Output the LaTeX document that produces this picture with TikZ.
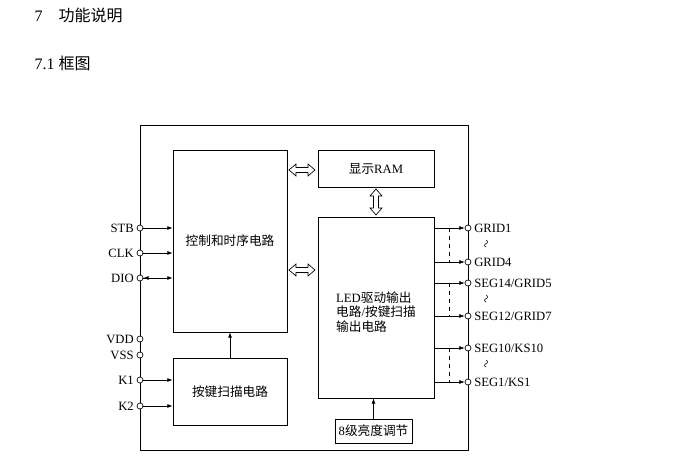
\documentclass[tikz,border=0pt]{standalone}
\usepackage{fontspec}
\setmainfont{Liberation Serif}
\newfontfamily\cjk{Noto Sans CJK SC}
\usetikzlibrary{arrows.meta}
\begin{document}
\begin{tikzpicture}[x=0.75pt,y=-0.75pt,
  box/.style={draw,line width=0.6pt,inner sep=0},
  lbl/.style={font=\fontsize{9.5}{11}\selectfont,inner sep=2pt},
  pin/.style={draw,fill=white,circle,inner sep=0,minimum size=4.5pt,line width=0.5pt},
  sig/.style={line width=0.5pt,-{Latex[length=4pt,width=3pt]}},
  hol/.style={draw,fill=white,line width=0.5pt}]
\useasboundingbox (0,0) rectangle (675,473);
\node[anchor=west,font=\fontsize{12}{14}\selectfont] (h1) at (30,15) {7\hspace{12pt}{\cjk 功能说明}};
\node[anchor=west,font=\fontsize{12}{14}\selectfont] (h2) at (30,63) {7.1 {\cjk 框图}};
\node[box,minimum width=328*0.75pt,minimum height=325*0.75pt] (outer) at (304,287.5) {};
\node[box,minimum width=114*0.75pt,minimum height=182*0.75pt] (ctrl) at (230,241) {};
\node[lbl] at (230,241) {\cjk 控制和时序电路};
\node[box,minimum width=116*0.75pt,minimum height=37*0.75pt] (ram) at (376,168.5) {\fontsize{9.5}{11}\selectfont{\cjk 显示}RAM};
\node[box,minimum width=116*0.75pt,minimum height=181*0.75pt,align=center] (led) at (376,307.5) {};
\node[lbl,align=left] at (376,312) {LED{\cjk 驱动输出}\\{\cjk 电路}/{\cjk 按键扫描}\\{\cjk 输出电路}};
\node[box,minimum width=114*0.75pt,minimum height=67*0.75pt] (key) at (230,391.5) {\fontsize{9.5}{11}\selectfont\cjk 按键扫描电路};
\node[box,minimum width=77*0.75pt,minimum height=24*0.75pt] (bri) at (373.5,431) {\fontsize{9.5}{11}\selectfont 8{\cjk 级亮度调节}};
\draw[sig] (key.north) -- (ctrl.south);
\draw[sig] (bri.north) -- (bri.north |- led.south);
% hollow double arrows
\filldraw[hol] (289,170) -- (296,164) -- (296,167.5) -- (308,167.5) -- (308,164) -- (315,170) -- (308,176) -- (308,172.5) -- (296,172.5) -- (296,176) -- cycle;
\filldraw[hol] (289,270) -- (296,264) -- (296,267.5) -- (308,267.5) -- (308,264) -- (315,270) -- (308,276) -- (308,272.5) -- (296,272.5) -- (296,276) -- cycle;
\filldraw[hol] (376,189) -- (382,196) -- (378.5,196) -- (378.5,208) -- (382,208) -- (376,215) -- (370,208) -- (373.5,208) -- (373.5,196) -- (370,196) -- cycle;
% left pins
\foreach \n/\y in {STB/228,CLK/253,DIO/278,VDD/339,VSS/355,K1/380,K2/406}{
  \node[pin] (p\n) at (140,\y) {};
  \node[lbl,anchor=east] at (p\n.west) {\n};
}
\foreach \n in {STB,CLK,DIO}{ \draw[sig] (p\n) -- (p\n -| ctrl.west); }
\draw[line width=0.5pt,{Latex[length=4pt,width=3pt]}-] (pDIO.east) -- ++(12,0);
\foreach \n in {K1,K2}{ \draw[sig] (p\n) -- (p\n -| key.west); }
% right pins
\foreach \i/\n/\y in {a/GRID1/228,b/GRID4/262,c/SEG14\slash GRID5/283,d/SEG12\slash GRID7/316,e/SEG10\slash KS10/348,f/SEG1\slash KS1/382}{
  \node[pin] (q\i) at (468,\y) {};
  \node[lbl,anchor=west] at (q\i.east) {\n};
  \draw[sig] (q\i -| led.east) -- (q\i.west);
}
\foreach \y in {245,300,365}{ \node[font=\fontsize{11}{12}\selectfont,rotate=70] at (488,\y) {\textasciitilde}; }
\draw[dashed,line width=0.4pt] (449,228) -- (449,262);
\draw[dashed,line width=0.4pt] (449,283) -- (449,316);
\draw[dashed,line width=0.4pt] (449,348) -- (449,382);
\end{tikzpicture}
\end{document}
